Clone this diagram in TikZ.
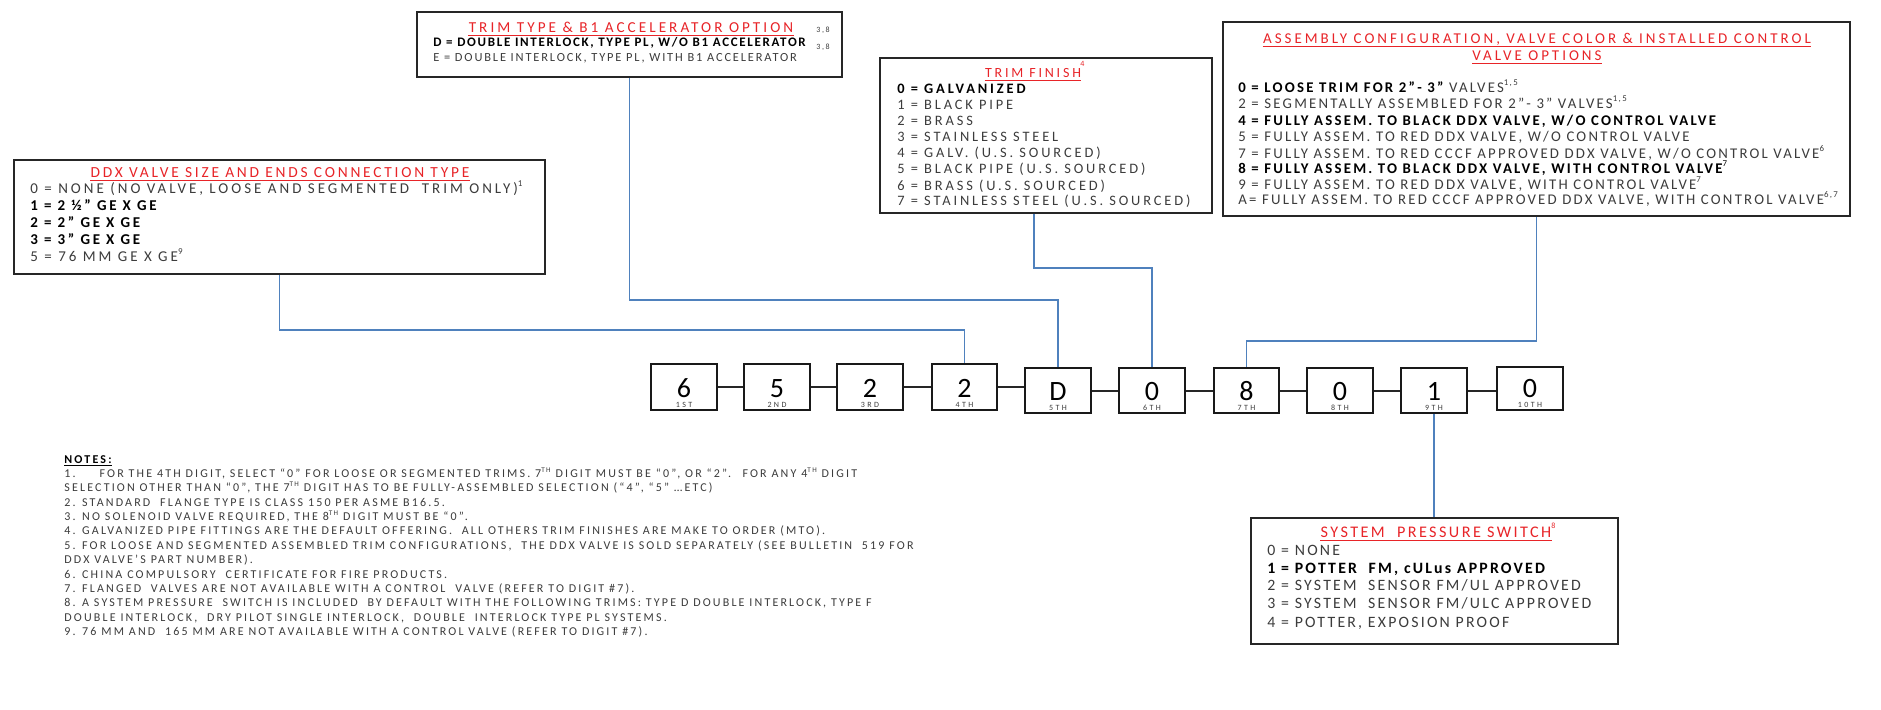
\documentclass[tikz,border=0pt]{standalone}
\usepackage{fontspec}
\setmainfont{Carlito}
\usetikzlibrary{fit}
\definecolor{tred}{RGB}{232,36,40}
\definecolor{cblue}{RGB}{79,129,189}
\definecolor{tgray}{RGB}{60,60,60}
\newcommand\lsf[2]{\fontsize{#1}{#1}\selectfont\addfontfeatures{LetterSpace=#2}}
\newcommand\sups[1]{\raisebox{0.42em}{\scalebox{0.6}{#1}}}
\begin{document}
\begin{tikzpicture}[x=0.5pt,y=-0.5pt,
  boxst/.style={draw=black!85,line width=0.9pt,inner sep=0pt},
  dbox/.style={draw=black!90,line width=1pt,inner sep=0pt},
  link/.style={draw=black!85,line width=1pt},
  conn/.style={draw=cblue,line width=0.8pt},
  dnum/.style={anchor=base,inner sep=0pt,font=\lsf{14}{0}},
  dord/.style={anchor=base,inner sep=0pt,font=\lsf{4}{30},text=tgray},
  ttl/.style={anchor=base,inner sep=0pt,text=tred},
  txt/.style={anchor=base west,inner sep=0pt,text=tgray},
  btxt/.style={anchor=base west,inner sep=0pt,text=black,font=\bfseries},
  uline/.style={draw=tred,line width=0.5pt},
  supn/.style={anchor=base west,inner sep=0pt}
]
\fill[white] (0,0) rectangle (1881,709);
\useasboundingbox (0,0) rectangle (1881,709);

% ---------- digit boxes ----------
\node[dbox,fit={(651,364)(717,410)}] (d1) {};
\node[dbox,fit={(744,364)(810,410)}] (d2) {};
\node[dbox,fit={(837,364)(903,410)}] (d3) {};
\node[dbox,fit={(932,364)(997,410)}] (d4) {};
\node[dbox,fit={(1025,368)(1091,413)}] (d5) {};
\node[dbox,fit={(1119,368)(1185,413)}] (d6) {};
\node[dbox,fit={(1214,368)(1279,413)}] (d7) {};
\node[dbox,fit={(1307,368)(1373,413)}] (d8) {};
\node[dbox,fit={(1401,368)(1467,413)}] (d9) {};
\node[dbox,fit={(1497,367)(1563,410)}] (d10) {};

\draw[link] (d1.east) -- (d2.west);
\draw[link] (d2.east) -- (d3.west);
\draw[link] (d3.east) -- (d4.west);
\draw[link] (d4.east) -- (d4.east -| d5.west);
\draw[link] (d5.east) -- (d6.west);
\draw[link] (d6.east) -- (d7.west);
\draw[link] (d7.east) -- (d8.west);
\draw[link] (d8.east) -- (d9.west);
\draw[link] (d9.east) -- (d9.east -| d10.west);

\node[dnum] (n1) at (684,397) {6};
\node[dnum] (n2) at (777,397) {5};
\node[dnum] (n3) at (870,397) {2};
\node[dnum] (n4) at (964.5,397) {2};
\node[dnum] (n5) at (1058,400) {D};
\node[dnum] (n6) at (1152,400) {0};
\node[dnum] (n7) at (1246.5,400) {8};
\node[dnum] (n8) at (1340,400) {0};
\node[dnum] (n9) at (1434,400) {1};
\node[dnum] (n10) at (1530,397) {0};
\node[dord] (o1) at (684,407.5) {1ST};
\node[dord] (o2) at (777,407.5) {2ND};
\node[dord] (o3) at (870,407.5) {3RD};
\node[dord] (o4) at (964.5,407.5) {4TH};
\node[dord] (o5) at (1058,410.5) {5TH};
\node[dord] (o6) at (1152,410.5) {6TH};
\node[dord] (o7) at (1246.5,410.5) {7TH};
\node[dord] (o8) at (1340,410.5) {8TH};
\node[dord] (o9) at (1434,410.5) {9TH};
\node[dord] (o10) at (1530,407.5) {10TH};

% ---------- DDX valve box ----------
\node[boxst,fit={(14,160)(545,274)}] (ddx) {};
\node[ttl,font=\lsf{7.7}{18}] (ddxt) at (280,177) {DDX VALVE SIZE AND ENDS CONNECTION TYPE};
\draw[uline] ([yshift=-1.5pt]ddxt.base west) -- ([yshift=-1.5pt]ddxt.base east);
\node[txt,font=\lsf{7.5}{20}] (ddx0) at (30,193) {0 = NONE (NO VALVE, LOOSE AND SEGMENTED \ TRIM ONLY)\sups{1}};
\node[btxt,font=\lsf{7.5}{18}\bfseries] (ddx1) at (30,210) {1 = 2 ½” GE X GE};
\node[btxt,font=\lsf{7.5}{18}\bfseries] (ddx2) at (30,227) {2 = 2” GE X GE};
\node[btxt,font=\lsf{7.5}{18}\bfseries] (ddx3) at (30,244) {3 = 3” GE X GE};
\node[txt,font=\lsf{7.5}{20}] (ddx5) at (30,261) {5 = 76 MM GE X GE\sups{9}};

% ---------- Trim type box ----------
\node[boxst,fit={(417,12)(842,77)}] (tt) {};
\node[ttl,font=\lsf{7.6}{20}] (ttt) at (631,32) {TRIM TYPE \& B1 ACCELERATOR OPTION};
\draw[uline] ([yshift=-1.5pt]ttt.base west) -- ([yshift=-1.5pt]ttt.base east);
\node[btxt,font=\lsf{6.5}{13}\bfseries] (ttd) at (433,46) {D = DOUBLE INTERLOCK, TYPE PL, W/O B1 ACCELERATOR};
\node[txt,font=\lsf{6.2}{15}] (tte) at (433,61) {E = DOUBLE INTERLOCK, TYPE PL, WITH B1 ACCELERATOR};
\node[supn,font=\lsf{4}{20},text=tgray] (tts1) at (816,32) {3,8};
\node[supn,font=\lsf{4}{20},text=tgray] (tts2) at (816,49) {3,8};

% ---------- Trim finish box ----------
\node[boxst,fit={(880,58)(1212,213)}] (tf) {};
\node[ttl,font=\lsf{7}{20}] (tft) at (1033,77) {TRIM FINISH};
\draw[uline] ([yshift=-1.5pt]tft.base west) -- ([yshift=-1.5pt]tft.base east);
\node[supn,font=\lsf{4}{0},text=tred] (tfs) at (1080,66) {4};
\node[btxt,font=\lsf{7.2}{20}\bfseries] (tf0) at (897,93) {0 = GALVANIZED};
\node[txt,font=\lsf{7.2}{20}] (tf1) at (897,109) {1 = BLACK PIPE};
\node[txt,font=\lsf{7.2}{20}] (tf2) at (897,125) {2 = BRASS};
\node[txt,font=\lsf{7.2}{20}] (tf3) at (897,141) {3 = STAINLESS STEEL};
\node[txt,font=\lsf{7.2}{20}] (tf4) at (897,157) {4 = GALV. (U.S. SOURCED)};
\node[txt,font=\lsf{7.2}{20}] (tf5) at (897,173) {5 = BLACK PIPE (U.S. SOURCED)};
\node[txt,font=\lsf{7.2}{20}] (tf6) at (897,190) {6 = BRASS (U.S. SOURCED)};
\node[txt,font=\lsf{7.2}{20}] (tf7) at (897,205) {7 = STAINLESS STEEL (U.S. SOURCED)};

% ---------- Assembly box ----------
\node[boxst,fit={(1223,22)(1850,216)}] (asm) {};
\node[ttl,font=\lsf{7.5}{20}] (asmt1) at (1537,43) {ASSEMBLY CONFIGURATION, VALVE COLOR \& INSTALLED CONTROL};
\draw[uline] ([yshift=-1.5pt]asmt1.base west) -- ([yshift=-1.5pt]asmt1.base east);
\node[ttl,font=\lsf{7.5}{20}] (asmt2) at (1537,60) {VALVE OPTIONS};
\draw[uline] ([yshift=-1.5pt]asmt2.base west) -- ([yshift=-1.5pt]asmt2.base east);
\node[btxt,font=\lsf{7.4}{15}] (a0) at (1238,92) {\bfseries 0 = LOOSE TRIM FOR 2”- 3” {\mdseries\color{tgray}VALVES\sups{1,5}}};
\node[txt,font=\lsf{7.4}{15}] (a2) at (1238,108) {2 = SEGMENTALLY ASSEMBLED FOR 2”- 3” VALVES\sups{1,5}};
\node[btxt,font=\lsf{7.4}{15}\bfseries] (a4) at (1238,125) {4 = FULLY ASSEM. TO BLACK DDX VALVE, W/O CONTROL VALVE};
\node[txt,font=\lsf{7.4}{15}] (a5) at (1238,141) {5 = FULLY ASSEM. TO RED DDX VALVE, W/O CONTROL VALVE};
\node[txt,font=\lsf{7.4}{15}] (a7) at (1238,158) {7 = FULLY ASSEM. TO RED CCCF APPROVED DDX VALVE, W/O CONTROL VALVE\sups{6}};
\node[btxt,font=\lsf{7.4}{15}\bfseries] (a8) at (1238,173) {8 = FULLY ASSEM. TO BLACK DDX VALVE, WITH CONTROL VALVE\sups{\mdseries 7}};
\node[txt,font=\lsf{7.4}{15}] (a9) at (1238,189) {9 = FULLY ASSEM. TO RED DDX VALVE, WITH CONTROL VALVE\sups{7}};
\node[txt,font=\lsf{7.4}{15}] (aA) at (1238,204) {A= FULLY ASSEM. TO RED CCCF APPROVED DDX VALVE, WITH CONTROL VALVE\sups{6,7}};

% ---------- System pressure switch box ----------
\node[boxst,fit={(1251,518)(1618,644)}] (sps) {};
\node[ttl,font=\lsf{8.1}{15}] (spst) at (1436,537) {SYSTEM \ PRESSURE SWITCH};
\draw[uline] ([yshift=-1.5pt]spst.base west) -- ([yshift=-1.5pt]spst.base east);
\node[supn,font=\lsf{4}{0},text=tred] (spss) at (1551,528) {8};
\node[txt,font=\lsf{7.9}{14}] (sp0) at (1267,555) {0 = NONE};
\node[btxt,font=\lsf{7.9}{14}\bfseries] (sp1) at (1267,573) {1 = POTTER \ FM, cULus APPROVED};
\node[txt,font=\lsf{7.9}{14}] (sp2) at (1267,590) {2 = SYSTEM \ SENSOR FM/UL APPROVED};
\node[txt,font=\lsf{7.9}{14}] (sp3) at (1267,608) {3 = SYSTEM \ SENSOR FM/ULC APPROVED};
\node[txt,font=\lsf{7.9}{14}] (sp4) at (1267,627) {4 = POTTER, EXPOSION PROOF};

% ---------- connectors ----------
\draw[conn] (ddx.south) -- ++(0,55) -| (d4.north);
\draw[conn] (tt.south) -- ++(0,222) -| (d5.north);
\draw[conn] ([xshift=-6pt]tf.south) -- ++(0,54) -| (d6.north);
\draw[conn] (asm.south) -- ++(0,124) -| (d7.north);
\draw[conn] (d9.south) -- (d9.south |- sps.north);

% ---------- notes ----------
\node[btxt,font=\lsf{6}{18}\bfseries] (nt) at (64,463) {NOTES:};
\draw[draw=black,line width=0.4pt] ([yshift=-1pt]nt.base west) -- ([yshift=-1pt]nt.base east);
\node[txt,font=\lsf{6}{18}] (nl1) at (64,477.5) {1.\hspace{12pt}FOR THE 4TH DIGIT, SELECT “0” FOR LOOSE OR SEGMENTED TRIMS. 7\sups{TH} DIGIT MUST BE “0”, OR “2”. \ FOR ANY 4\sups{TH} DIGIT};
\node[txt,font=\lsf{6}{18}] (nl2) at (64,491.9) {SELECTION OTHER THAN “0”, THE 7\sups{TH} DIGIT HAS TO BE FULLY-ASSEMBLED SELECTION (“4”, “5” …ETC)};
\node[txt,font=\lsf{6}{18}] (nl3) at (64,506.2) {2. STANDARD \ FLANGE TYPE IS CLASS 150 PER ASME B16.5.};
\node[txt,font=\lsf{6}{18}] (nl4) at (64,520.6) {3. NO SOLENOID VALVE REQUIRED, THE 8\sups{TH} DIGIT MUST BE “0”.};
\node[txt,font=\lsf{6}{18}] (nl5) at (64,534.9) {4. GALVANIZED PIPE FITTINGS ARE THE DEFAULT OFFERING. \ ALL OTHERS TRIM FINISHES ARE MAKE TO ORDER (MTO).};
\node[txt,font=\lsf{6}{18}] (nl6) at (64,549.3) {5. FOR LOOSE AND SEGMENTED ASSEMBLED TRIM CONFIGURATIONS, \ THE DDX VALVE IS SOLD SEPARATELY (SEE BULLETIN \ 519 FOR};
\node[txt,font=\lsf{6}{18}] (nl7) at (64,563.6) {DDX VALVE’S PART NUMBER).};
\node[txt,font=\lsf{6}{18}] (nl8) at (64,578) {6. CHINA COMPULSORY \ CERTIFICATE FOR FIRE PRODUCTS.};
\node[txt,font=\lsf{6}{18}] (nl9) at (64,592.3) {7. FLANGED \ VALVES ARE NOT AVAILABLE WITH A CONTROL \ VALVE (REFER TO DIGIT \#7).};
\node[txt,font=\lsf{6}{18}] (nl10) at (64,606.7) {8. A SYSTEM PRESSURE \ SWITCH IS INCLUDED \ BY DEFAULT WITH THE FOLLOWING TRIMS: TYPE D DOUBLE INTERLOCK, TYPE F};
\node[txt,font=\lsf{6}{18}] (nl11) at (64,621) {DOUBLE INTERLOCK, \ DRY PILOT SINGLE INTERLOCK, \ DOUBLE \ INTERLOCK TYPE PL SYSTEMS.};
\node[txt,font=\lsf{6}{18}] (nl12) at (64,635.4) {9. 76 MM AND \ 165 MM ARE NOT AVAILABLE WITH A CONTROL VALVE (REFER TO DIGIT \#7).};
\end{tikzpicture}
\end{document}
